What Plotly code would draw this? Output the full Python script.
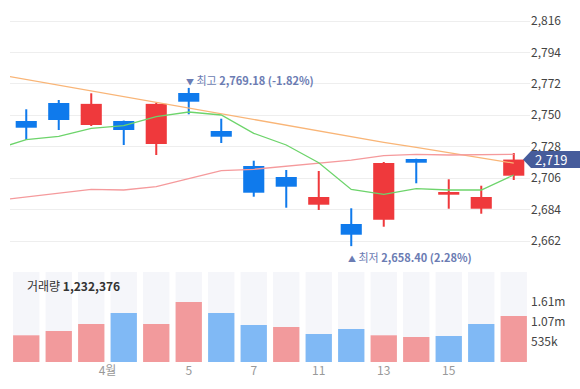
import plotly.graph_objects as go

# ---------------- data ----------------
idx = list(range(16))
opens  = [2746.0, 2758.6, 2743.2, 2746.0, 2729.9, 2765.6, 2739.0, 2714.5,
          2706.8, 2687.4, 2673.9, 2676.9, 2719.4, 2694.4, 2684.6, 2707.7]
highs  = [2754.2, 2760.7, 2765.4, 2746.3, 2758.8, 2769.18, 2747.6, 2718.2,
          2711.7, 2711.0, 2684.9, 2717.3, 2719.6, 2705.2, 2700.7, 2723.6]
lows   = [2732.7, 2739.7, 2742.5, 2729.2, 2722.2, 2750.7, 2730.6, 2693.0,
          2685.3, 2683.7, 2658.40, 2672.0, 2702.4, 2684.6, 2681.1, 2704.7]
closes = [2741.3, 2746.7, 2758.0, 2739.7, 2758.0, 2759.5, 2735.0, 2695.8,
          2700.0, 2692.8, 2666.4, 2716.6, 2716.8, 2696.3, 2692.8, 2719.0]

ma_idx = list(range(-1, 16))
ma_short = [2725.9, 2732.9, 2735.3, 2740.9, 2742.7, 2749.0, 2752.3, 2750.2, 2737.4,
            2729.2, 2716.8, 2698.1, 2694.6, 2698.6, 2697.7, 2697.7, 2708.2]
ma_mid   = [2690.1, 2692.8, 2695.5, 2698.2, 2697.7, 2700.0, 2705.7, 2711.2, 2712.2,
            2714.3, 2716.4, 2718.6, 2721.7, 2722.7, 2722.2, 2722.4, 2722.7]
ma_long  = [2779.1, 2775.1, 2771.1, 2767.0, 2762.9, 2759.0, 2754.9, 2750.8, 2746.8,
            2742.8, 2738.7, 2734.7, 2731.1, 2727.5, 2723.8, 2720.2, 2716.5]

volume = [714000, 829000, 1016000, 1310000, 1016000, 1605000, 1310000, 990000,
          936000, 749000, 883000, 714000, 669000, 696000, 1016000, 1232376]
vol_up = [True, True, True, False, True, True, False, False,
          True, False, False, True, True, False, False, True]

x_tick_vals = [2.5, 5, 7, 9, 11, 13]
x_tick_text = ["4월", "5", "7", "11", "13", "15"]
price_ticks = [2662, 2684, 2706, 2728, 2750, 2772, 2794, 2816]
vol_ticks = [535000, 1070000, 1610000]
vol_tick_text = ["535k", "1.07m", "1.61m"]
VOL_MAX = 2407500

hi_text = "2,769.18 (-1.82%)"
lo_text = "2,658.40 (2.28%)"
last_close_text = "2,719"
last_volume_text = "1,232,376"

# ---------------- styles ----------------
W, H = 580, 389
RED, BLUE = "#ef393c", "#0f7aec"
VRED, VBLUE = "#f29a9c", "#80b9f5"
FONT = "Noto Sans CJK KR"


def py(px):
    return 1 - px / H


fig = go.Figure()

# volume background columns
fig.add_trace(go.Bar(x=idx, y=[VOL_MAX] * len(idx), width=0.81, yaxis="y2",
                     marker=dict(color="#f5f6fa", line_width=0), hoverinfo="skip"))
fig.add_trace(go.Bar(x=idx, y=volume, width=0.81, yaxis="y2",
                     marker=dict(color=[VRED if u else VBLUE for u in vol_up], line_width=0)))

# candles
ccol = [RED if c >= o else BLUE for o, c in zip(opens, closes)]
fig.add_trace(go.Bar(x=idx, y=[h - l for h, l in zip(highs, lows)], base=lows, width=0.062,
                     marker=dict(color=ccol, line_width=0), yaxis="y"))
fig.add_trace(go.Bar(x=idx, y=[max(abs(c - o), 0.7) for o, c in zip(opens, closes)],
                     base=[min(o, c) for o, c in zip(opens, closes)], width=0.65,
                     marker=dict(color=ccol, line_width=0), yaxis="y"))

# moving averages
fig.add_trace(go.Scatter(x=ma_idx, y=ma_long, mode="lines", line=dict(color="#f9b577", width=1.3), yaxis="y"))
fig.add_trace(go.Scatter(x=ma_idx, y=ma_mid, mode="lines", line=dict(color="#f59a9c", width=1.3), yaxis="y"))
fig.add_trace(go.Scatter(x=ma_idx, y=ma_short, mode="lines", line=dict(color="#6dd46b", width=1.3), yaxis="y"))

# current price tag
c = closes[-1]
hh = 8.5 / (220 / 154)
x_tip, x_body = 523 / W, 531 / W
fig.add_shape(type="path", xref="paper", yref="y",
              path=f"M {x_tip},{c} L {x_body},{c + hh} L 1,{c + hh} L 1,{c - hh} L {x_body},{c - hh} Z",
              fillcolor="#465c9b", line_width=0, layer="above")
fig.add_annotation(x=533 / W, xref="paper", y=c, yref="y", xanchor="left", text=last_close_text,
                   showarrow=False, height=15, font=dict(family=FONT, size=13, color="white"))

ANN = "#6b7cb3"
hi_i = highs.index(max(highs))
lo_i = lows.index(min(lows))
fig.add_annotation(x=hi_i, y=highs[hi_i], xref="x", yref="y", xanchor="left", yanchor="middle",
                   xshift=-5, yshift=8, showarrow=False,
                   text=f"<span style='font-size:8px'>▼</span> 최고 <b>{hi_text}</b>",
                   font=dict(family=FONT, size=11, color=ANN))
fig.add_annotation(x=lo_i, y=lows[lo_i], xref="x", yref="y", xanchor="left", yanchor="middle",
                   xshift=-5, yshift=-11, showarrow=False,
                   text=f"<span style='font-size:8px'>▲</span> 최저 <b>{lo_text}</b>",
                   font=dict(family=FONT, size=11, color=ANN))

fig.add_annotation(x=25 / W, y=py(285), xref="paper", yref="paper", xanchor="left", yanchor="middle",
                   showarrow=False, text=f"거래량 <b>{last_volume_text}</b>",
                   font=dict(family=FONT, size=12, color="#333"))

fig.update_layout(
    width=W, height=H, margin=dict(l=0, r=0, t=0, b=0, autoexpand=False),
    paper_bgcolor="white", plot_bgcolor="white",
    barmode="overlay", showlegend=False, font=dict(family=FONT),
    xaxis=dict(domain=[10 / W, 530 / W], range=[-0.5, 15.5], anchor="y2",
               tickvals=x_tick_vals, ticktext=x_tick_text, showgrid=False, zeroline=False,
               showline=False, ticks="", tickfont=dict(family=FONT, size=12, color="#999")),
    yaxis=dict(domain=[py(260), 1], range=[2648.7, 2830.7], side="right", anchor="x",
               tickvals=price_ticks, ticktext=[f"{v:,}" for v in price_ticks],
               showgrid=True, gridcolor="#eeeeee", gridwidth=1, zeroline=False, ticks="",
               tickfont=dict(family=FONT, size=12, color="#444")),
    yaxis2=dict(domain=[py(362), py(272)], range=[0, VOL_MAX], side="right", anchor="x",
                tickvals=vol_ticks, ticktext=vol_tick_text, showgrid=False, zeroline=False,
                ticks="", tickfont=dict(family=FONT, size=12, color="#444")),
)

fig.write_html("out.html", config={"displayModeBar": False},
               post_script="document.body.style.margin='0';document.body.style.overflow='hidden';")
